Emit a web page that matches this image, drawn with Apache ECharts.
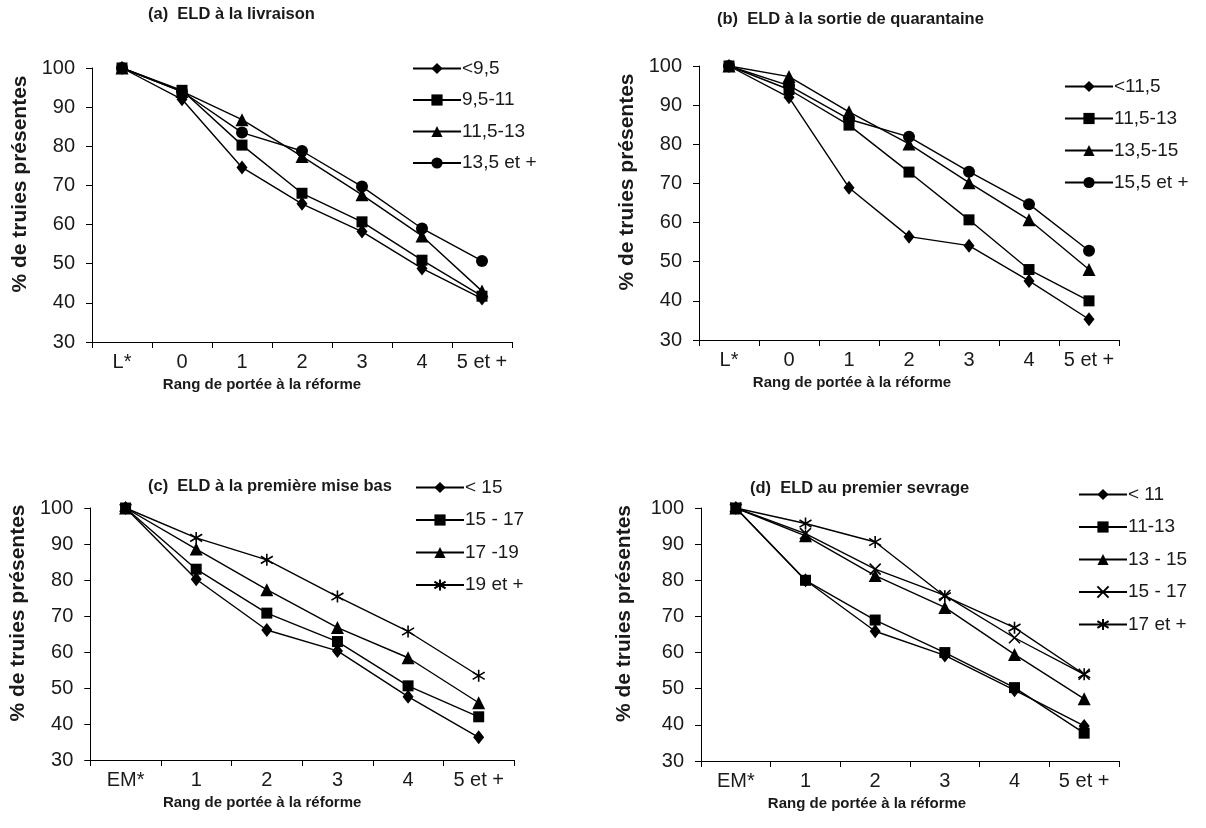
<!DOCTYPE html>
<html>
<head>
<meta charset="utf-8">
<script src="https://cdn.jsdelivr.net/npm/echarts@6/dist/echarts.min.js"></script>
<style>
html, body { margin: 0; padding: 0; background: #fff; }
.panel { position: absolute; width: 603px; height: 414px; }
</style>
</head>
<body>
<div id="chartA" class="panel" style="left:0;top:0"></div>
<div id="chartB" class="panel" style="left:603px;top:0"></div>
<div id="chartC" class="panel" style="left:0;top:414px"></div>
<div id="chartD" class="panel" style="left:603px;top:414px"></div>
<script>
// categories (rang de portée)
const catsL = ["L*", "0", "1", "2", "3", "4", "5 et +"];
const catsEM = ["EM*", "1", "2", "3", "4", "5 et +"];
const yTicks = [30, 40, 50, 60, 70, 80, 90, 100];

// (a) ELD à la livraison
const namesA = ["<9,5", "9,5-11", "11,5-13", "13,5 et +"];
const valuesA = [
  [100, 92, 74.6, 65.3, 58.2, 48.8, 41.1],
  [100, 94.3, 80.3, 68, 60.7, 50.9, 41.7],
  [100, 94, 86.8, 77.4, 67.6, 57.1, 43],
  [100, 94, 83.5, 78.8, 69.7, 59, 50.7]
];

// (b) ELD à la sortie de quarantaine
const namesB = ["<11,5", "11,5-13", "13,5-15", "15,5 et +"];
const valuesB = [
  [100, 92, 68.9, 56.4, 54.1, 45.1, 35.3],
  [100, 94, 84.9, 72.9, 60.7, 48, 40],
  [100, 97.3, 88.3, 80.1, 70.2, 60.7, 48],
  [100, 95, 86.4, 81.9, 73, 64.7, 52.8]
];

// (c) ELD à la première mise bas
const namesC = ["< 15", "15 - 17", "17 -19", "19 et +"];
const valuesC = [
  [100, 80.2, 66.1, 60.3, 47.6, 36.3],
  [100, 83, 70.8, 62.9, 50.6, 42],
  [100, 88.6, 77.3, 66.8, 58.4, 45.9],
  [100, 91.7, 85.6, 75.4, 65.7, 53.4]
];

// (d) ELD au premier sevrage
const namesD = ["< 11", "11-13", "13 - 15", "15 - 17", "17 et +"];
const valuesD = [
  [100, 80, 65.9, 59.2, 49.6, 39.7],
  [100, 80, 69, 60, 50.3, 37.7],
  [100, 92.3, 81.3, 72.5, 59.5, 47.2],
  [100, 92.9, 83.1, 75.8, 64.1, 54],
  [100, 95.7, 90.6, 75.6, 66.9, 54]
];

const FONT = "Liberation Sans, Arial, sans-serif";
const INK = "#1a1a1a";

// marker shapes, in series order
const SYM_X = "path://M0,0 L10,10 M10,0 L0,10";
const SYM_STAR = "path://M5,0 L5,10 M0,2 L10,8 M0,8 L10,2";
const markers = [
  { symbol: "diamond", size: [11, 14] },
  { symbol: "rect", size: 11 },
  { symbol: "triangle", size: 13 },
  { symbol: "circle", size: 12 }
];
const markersC = [markers[0], markers[1], markers[2], { symbol: SYM_STAR, size: 12, stroke: true }];
const markersD = [markers[0], markers[1], markers[2], { symbol: SYM_X, size: 11, stroke: true }, { symbol: SYM_STAR, size: 12, stroke: true }];

function drawPanel(id, cfg) {
  let myChart = echarts.init(document.getElementById(id), null, { renderer: "canvas" });
  let series = cfg.names.map((name, i) => {
    let m = cfg.markers[i];
    return {
      name: name,
      type: "line",
      data: cfg.values[i],
      symbol: m.symbol,
      symbolSize: m.size,
      showAllSymbol: true,
      lineStyle: { color: "#000", width: 1.4 },
      itemStyle: m.stroke
        ? { color: "#000", borderColor: "#000", borderWidth: 1.6 }
        : { color: "#000", borderWidth: 0 },
      emphasis: { disabled: true },
      z: 2 + i
    };
  });
  var option = {
    animation: false,
    textStyle: { fontFamily: FONT, color: INK },
    title: {
      text: cfg.title,
      left: cfg.titlePos[0],
      top: cfg.titlePos[1],
      padding: 0,
      textStyle: { fontFamily: FONT, fontWeight: "bold", fontSize: 16.5, color: INK }
    },
    legend: {
      data: cfg.names,
      orient: "vertical",
      left: cfg.legendPos[0],
      top: cfg.legendPos[1],
      itemWidth: 48,
      itemHeight: 14,
      itemGap: cfg.legendGap,
      selectedMode: false,
      textStyle: { fontFamily: FONT, fontSize: 19, color: INK, padding: [0, 0, 0, -4] }
    },
    grid: {
      left: cfg.grid[0],
      top: cfg.grid[1],
      width: cfg.grid[2],
      height: cfg.grid[3],
      containLabel: false
    },
    xAxis: {
      type: "category",
      data: cfg.cats,
      boundaryGap: true,
      name: "Rang de portée à la réforme",
      nameLocation: "middle",
      nameGap: cfg.xNameGap,
      nameTextStyle: {
        fontFamily: FONT, fontWeight: "bold", fontSize: 15, color: INK,
        padding: [0, cfg.xNameShift, 0, 0]
      },
      axisLine: { lineStyle: { color: "#000", width: 1 } },
      axisTick: { show: true, length: 6, interval: 0, lineStyle: { color: "#000" } },
      axisLabel: { fontSize: 20, color: INK, margin: 10, interval: 0 }
    },
    yAxis: {
      type: "value",
      min: yTicks[0],
      max: yTicks[yTicks.length - 1],
      interval: yTicks[1] - yTicks[0],
      name: "% de truies présentes",
      nameLocation: "middle",
      nameGap: cfg.yNameGap,
      nameTextStyle: {
        fontFamily: FONT, fontWeight: "bold", fontSize: 21, color: INK,
        padding: [0, 0, 0, cfg.yNameShift]
      },
      axisLine: { show: true, lineStyle: { color: "#000", width: 1 } },
      axisTick: { show: true, length: 6, lineStyle: { color: "#000" } },
      axisLabel: { fontSize: 20, color: INK, margin: 17 },
      splitLine: { show: false }
    },
    series: series
  };
  myChart.setOption(option);
}

drawPanel("chartA", {
  title: "(a)  ELD à la livraison", titlePos: [148, 6],
  names: namesA, values: valuesA, markers: markers, cats: catsL,
  grid: [92, 68, 420, 274], legendPos: [407, 54], legendGap: 12.5,
  xNameGap: 29, xNameShift: 80, yNameGap: 56, yNameShift: 42
});
drawPanel("chartB", {
  title: "(b)  ELD à la sortie de quarantaine", titlePos: [114, 11],
  names: namesB, values: valuesB, markers: markers, cats: catsL,
  grid: [96, 66, 420, 274], legendPos: [456, 72], legendGap: 13,
  xNameGap: 29, xNameShift: 114, yNameGap: 61, yNameShift: 42
});
drawPanel("chartC", {
  title: "(c)  ELD à la première mise bas", titlePos: [148, 64],
  names: namesC, values: valuesC, markers: markersC, cats: catsEM,
  grid: [90, 94, 424, 252], legendPos: [410, 59], legendGap: 13.5,
  xNameGap: 29, xNameShift: 80, yNameGap: 57, yNameShift: 42
});
drawPanel("chartD", {
  title: "(d)  ELD au premier sevrage", titlePos: [147, 66],
  names: namesD, values: valuesD, markers: markersD, cats: catsEM,
  grid: [98, 94, 418, 253], legendPos: [470, 66], legendGap: 13.5,
  xNameGap: 29, xNameShift: 86, yNameGap: 66, yNameShift: 42
});
</script>
</body>
</html>
